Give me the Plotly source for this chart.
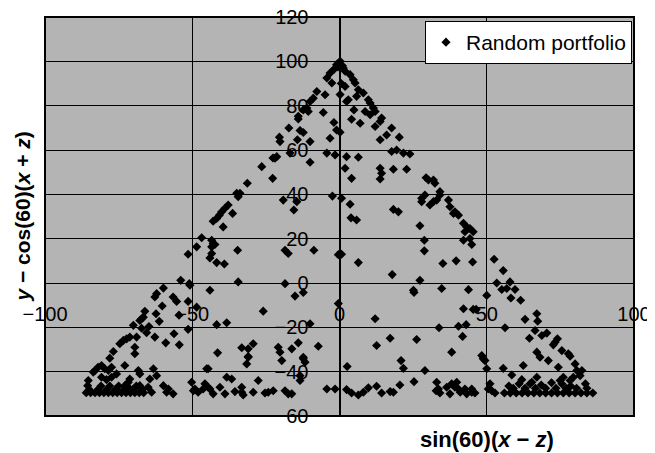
"""Random portfolios projected on the ternary plane, as a scatter (plotly)."""

import plotly.graph_objects as go

# projected coordinates: sin(60)(x - z), y - cos(60)(x + z)
px_top = [0.2, -1.0, -0.5, 1.0, -1.8, -3.2, -4.3, -2.6, -7.7, -4.9, -8.9, -10.0, -11.1, -12.3,
          -10.6, -5.5, -14.0, -14.0, -1.9, -1.0, -17.2, -13.4, -12.3, -20.4, -20.2, -14.3,
          -10.0, -3.2, -16.8, -21.3, -22.6, -4.3, -1.5,
          1.3, 1.9, 3.6, 4.7, 5.3, 0.6, 1.9, 6.4, 8.1, 5.8, 3.0, 2.4, 9.8, 10.4, 0.2, 11.5,
          12.1, 8.7, 10.4, 4.9, 4.1, 7.0, 14.3, 13.8, 12.1, 17.7, 16.0, 13.8, 20.3, 0.2, 17.7,
          19.4, 21.7, 23.9, 2.4, 6.4]
py_top = [100.0, 98.5, 97.5, 98.0, 96.5, 94.7, 92.5, 90.2, 86.4, 84.9, 83.4, 81.9, 78.9, 78.1,
          77.4, 76.9, 75.2, 74.0, 72.4, 69.0, 69.9, 68.8, 67.9, 65.8, 63.8, 64.6,
          63.8, 65.3, 58.6, 57.0, 56.4, 58.6, 57.8,
          97.0, 95.5, 94.0, 91.7, 90.2, 90.0, 88.7, 87.2, 85.7, 84.2, 82.7, 81.9, 82.7, 81.2, 85.0, 78.9,
          77.4, 77.4, 75.9, 78.1, 73.9, 72.1, 74.4, 72.9, 70.6, 69.9, 66.8, 64.6, 65.8, 68.0, 59.3,
          60.0, 58.6, 58.2, 57.0, 56.7]

px_mid = [-21.9, -26.4, -10.0, -22.7, -31.3, -34.9, -34.4, -33.8, -19.1, -14.5, -15.5, -2.4,
          -37.8, -38.9, -40.0, -40.8, -41.7, -42.9, -36.3, -39.5, -46.8, -48.5, -43.4, -42.9,
          -42.3, -43.4, -51.4, -43.4, -44.0, -41.7, -39.1, -34.6, -18.5, -17.4, -8.7, -0.4,
          -53.9, -51.0, -59.8, -34.4, -18.5, -44.0,
          1.9, 4.1, 13.8, 14.3, 13.8, 18.3, 22.8, 29.4, 30.2, 31.9, 32.4, 34.1, 34.1, 29.0, 27.9,
          27.9, 33.0, 31.9, 30.7, 37.0, 37.5, 39.2, 40.4, 38.7, 0.7, 3.6, 3.9, 5.8, 18.3, 20.0,
          27.3, 42.1, 43.2, 44.3, 45.4, 42.6, 42.1, 44.3, 44.9, 28.8, 28.8, 0.7, 6.4, 35.1, 39.6,
          45.2, 52.5, 55.6, 57.9, 53.4, 17.9, 27.3, 34.7, 43.8, 25.1, 55.1, 56.8, 59.6]
py_mid = [56.3, 52.5, 54.5, 47.2, 45.0, 40.5, 38.9, 40.5, 37.4, 36.7, 32.9, 39.2,
          35.2, 33.7, 32.1, 30.6, 29.1, 27.9, 31.4, 25.3, 20.4, 16.3, 19.3, 17.8,
          17.4, 16.3, 13.0, 13.3, 11.3, 9.2, 8.6, 14.8, 14.8, 13.3, 14.8, 12.8,
          1.2, -0.3, -2.3, 0.5, -0.3, -3.3,
          51.8, 47.2, 51.8, 49.5, 46.9, 51.3, 51.3, 47.5, 46.5, 46.5, 45.0, 41.2, 39.7, 39.7, 38.2,
          36.7, 37.4, 36.7, 35.2, 37.4, 34.4, 32.1, 30.6, 31.4, 38.2, 35.5, 29.4, 28.4, 33.2, 32.1,
          25.8, 26.9, 25.3, 24.6, 23.1, 23.1, 19.3, 20.1, 17.4, 19.3, 14.5, 13.0, 9.2, 8.8, 10.0,
          9.5, 10.7, 5.6, 0.5, 0.0, 3.8, 1.2, -2.5, -3.0, -3.3, -2.9, -2.5, -2.9]

px_left = [-62.1, -62.7, -56.5, -55.3, -60.2, -51.4, -50.8, -48.5, -66.1, -67.2, -66.6, -67.8,
           -62.3, -61.2, -70.0, -67.2, -64.7, -65.5, -62.7, -56.2, -51.4, -59.0, -54.4, -68.9,
           -71.2, -72.3, -73.4, -74.6, -69.5, -69.5, -76.8, -78.0, -54.5,
           -82.0, -80.8, -79.7, -78.5, -77.4, -72.9, -83.0, -83.6, -75.7, -80.8, -79.1, -77.4,
           -85.3, -85.5, -68.3, -67.8, -63.2, -62.1, -64.4, -71.2, -71.7, -72.9, -71.7, -67.8,
           -65.0, -63.8, -59.8, -58.1, -56.5, -58.7, -45.1, -50.2, -49.1, -49.6, -48.0, -46.3,
           -44.6,
           -86.0, -84.5, -83.0, -81.5, -80.0, -78.5, -77.0, -75.5, -74.0, -72.5, -71.0, -69.5,
           -68.0, -66.5, -85.0, -82.0, -79.0, -76.0, -73.0, -70.0, -67.0, -81.0, -78.0, -75.0,
           -69.0]
py_left = [-4.8, -6.3, -6.3, -8.3, -10.4, -8.3, -1.0, -10.9, -12.8, -16.1, -15.4, -16.9,
           -13.9, -17.3, -19.1, -20.4, -19.6, -22.4, -24.4, -22.9, -20.9, -27.0, -27.9, -24.4,
           -24.4, -25.2, -25.9, -27.4, -29.0, -31.9, -30.9, -33.9, -14.5,
           -38.0, -37.2, -38.7, -39.5, -38.0, -37.2, -39.5, -40.2, -41.0, -42.5, -43.6, -42.5,
           -44.0, -46.3, -39.5, -41.0, -38.7, -41.8, -43.3, -43.3, -44.8, -46.3, -47.0, -46.3,
           -47.0, -49.3, -46.3, -47.8, -50.0, -49.3, -38.7, -44.8, -47.8, -48.6, -49.3, -47.8,
           -47.0,
           -49.5, -49.5, -49.5, -49.5, -49.5, -49.5, -49.5, -49.5, -49.5, -49.5, -49.5, -49.5,
           -49.5, -49.5, -48.0, -48.0, -48.0, -48.0, -48.0, -48.0, -48.0, -46.5, -46.5, -46.5,
           -46.5]

px_low = [-44.6, -31.5, -31.0, -19.6, -12.3, -11.7, -13.4, -13.4, -38.3, -36.6, -27.6, -45.7,
          -44.0, -42.9, -40.6, -38.9, -35.5, -33.2, -33.2, -32.7, -29.3, -25.3, -24.2, -22.5,
          -18.5, -17.4, -16.2, -4.3, -1.5,
          -15.1, -12.3, -0.4, -25.9, -41.7, -38.3, -10.0, -41.4, -33.2, -31.0, -29.3, -31.0,
          -20.8, -20.2, -16.2, -14.0, -7.2, -12.3,
          25.3, 42.1, 45.4, 12.1, 33.8, 40.4, 43.0, 41.8, 17.2, 12.6, 26.2, 38.1, 20.9,
          50.0, 58.2, 61.5, 46.4, 63.0, 67.0, 67.3, 56.2, 66.4, 64.5, 68.7, 70.4, 74.0, 73.2,
          72.6, 75.5, 77.7, 78.3, 67.0, 68.1, 70.9, 48.3, 48.8]
py_low = [-38.7, -36.5, -33.5, -35.0, -34.2, -35.7, -44.0, -41.8, -42.5, -43.3, -44.0, -45.5,
          -47.8, -50.0, -47.0, -50.0, -49.0, -47.0, -49.3, -50.5, -49.3, -49.6, -49.3, -48.6,
          -48.6, -50.0, -50.0, -47.8, -47.8,
          -5.9, -4.3, -9.3, -12.7, -18.8, -17.9, -18.4, -31.5, -29.2, -29.7, -27.4, -33.2,
          -29.0, -31.2, -29.7, -27.0, -28.5, -33.5,
          -4.3, -11.6, -11.9, -16.1, -20.2, -19.5, -18.8, -24.1, -24.9, -28.2, -25.5, -31.2, -35.0,
          -5.6, -6.8, -7.8, -11.9, -16.4, -13.9, -17.2, -20.2, -21.4, -24.9, -23.7, -22.6, -25.2, -26.7,
          -27.9, -30.5, -31.9, -33.0, -31.2, -33.5, -35.0, -32.7, -34.2]

px_right = [2.6, 21.7, 29.0, 25.3, 20.5, 2.4, 4.1, 6.4, 8.1, 9.8, 12.6, 14.3, 17.2, 18.3,
            33.0, 33.6, 32.8, 34.1, 36.4, 38.1, 39.8, 39.2, 37.5, 40.4, 41.0, 42.6, 43.2, 44.9,
            49.4, 50.0, 55.6, 58.5, 62.4, 61.9, 67.0, 74.3, 80.0, 80.6, 82.3, 79.4, 78.3, 81.7,
            76.0, 74.9, 44.9, 46.0, 51.1, 50.5, 51.7, 52.8, 64.7, 75.5, 83.5, 65.3,
            57.5, 61.0, 68.5, 72.0, 78.5,
            56.0, 58.0, 60.0, 62.0, 64.0, 66.0, 68.0, 70.0, 72.0, 74.0, 76.0, 78.0, 80.0, 82.0,
            84.0, 86.0, 59.0, 63.0, 66.5, 70.0, 73.5, 77.0, 80.5, 84.0]
py_right = [-37.7, -38.5, -39.5, -44.5, -46.0, -48.1, -49.6, -50.5, -49.3, -47.3, -46.6, -49.6,
            -49.0, -49.3, -44.8, -47.8, -48.6, -49.6, -47.0, -45.5, -44.8, -47.0, -50.0, -47.8,
            -49.3, -47.8, -50.0, -49.3,
            -35.0, -38.7, -38.5, -41.5, -37.2, -43.6, -42.5, -38.0, -36.5, -39.5, -39.5, -42.5,
            -44.0, -41.8, -42.5, -44.0, -47.8, -49.6, -45.5, -47.8, -48.6, -49.6, -45.5, -45.5,
            -45.5, -44.8, -46.5, -45.5, -46.0, -45.0, -46.5,
            -49.6, -49.6, -49.6, -49.6, -49.6, -49.6, -49.6, -49.6, -49.6, -49.6, -49.6, -49.6,
            -49.6, -49.6, -49.6, -49.6, -47.5, -47.5, -47.5, -47.5, -47.5, -47.5, -47.5, -47.5]

xs = px_top + px_mid + px_left + px_low + px_right
ys = py_top + py_mid + py_left + py_low + py_right

FONT = "Arial, Liberation Sans, sans-serif"

fig = go.Figure()
fig.add_trace(go.Scatter(
    x=xs, y=ys, mode="markers", name="Random portfolio",
    marker=dict(symbol="diamond", size=7, color="black"),
))

# the page body keeps its default 8px margin, so the figure is 8px smaller each way
fig.update_layout(
    width=647, height=445,
    margin=dict(l=37, r=21, t=9, b=37),
    paper_bgcolor="white",
    plot_bgcolor="#b4b4b4",
    font=dict(family=FONT, size=20, color="black"),
    showlegend=True,
    legend=dict(
        x=0.9966, y=0.99, xanchor="right", yanchor="top",
        bgcolor="white", bordercolor="black", borderwidth=1,
        font=dict(size=21), itemwidth=30, tracegroupgap=0,
    ),
    xaxis=dict(
        range=[-100, 100], tick0=0, dtick=50, automargin=False,
        showgrid=True, gridcolor="black", gridwidth=1,
        zeroline=False, showline=True, linecolor="black", linewidth=1,
        anchor="free", position=1 / 3, ticks="", ticklabelstandoff=13,
        ticklabeloverflow="allow",
    ),
    yaxis=dict(
        range=[-60, 120], tick0=0, dtick=20, automargin=False,
        showgrid=True, gridcolor="black", gridwidth=1,
        zeroline=False, showline=True, linecolor="black", linewidth=1,
        anchor="free", position=0.5, ticks="", ticklabelstandoff=27,
        ticklabeloverflow="allow",
    ),
    shapes=[dict(type="rect", xref="paper", yref="paper", x0=0, x1=1, y0=0, y1=1,
                 line=dict(color="black", width=2))],
    annotations=[
        dict(text="<b><i>y</i> − cos(60)(<i>x</i> + <i>z</i>)</b>", xref="paper", yref="paper",
             x=-0.039, y=0.5, xanchor="center", yanchor="middle", textangle=-90,
             showarrow=False, font=dict(size=21)),
        dict(text="<b>sin(60)(<i>x</i> − <i>z</i>)</b>", xref="paper", yref="paper",
             x=0.75, y=-0.06, xanchor="center", yanchor="middle",
             showarrow=False, font=dict(size=22)),
    ],
)

fig.write_html("out.html")
